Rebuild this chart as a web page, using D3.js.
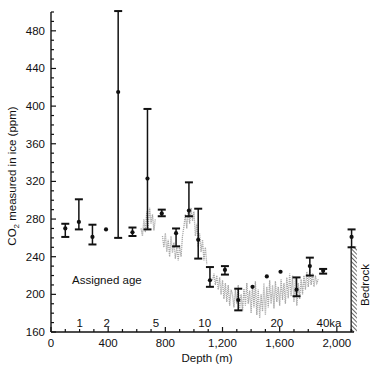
<!DOCTYPE html>
<html>
<head>
<meta charset="utf-8">
<script src="https://cdn.jsdelivr.net/npm/d3@7"></script>
<style>
  body { margin: 0; background: #fff; }
  svg text { font-family: "Liberation Sans", Arial, Helvetica, sans-serif; fill: #111; }
</style>
</head>
<body>
<svg id="chart" width="380" height="377"></svg>
<script>
'use strict';

// measured samples (ppm), with error range where drawn
const barDepth = [100, 195, 290, 385, 470, 570, 675, 775, 875, 965, 1030, 1112, 1217, 1310, 1410, 1510, 1606, 1718, 1811, 1904, 2103];
const barValue = [270, 277, 261, 269, 415, 266, 323, 286, 265, 289, 258, 215, 226, 194, 208, 219, 224, 205, 230, 225, 261];
const barLow   = [261, 269, 253, null, 260, 262, 269, 283, 251, 283, 238, 208, 221, 183, null, null, null, 198, 220, 222, 250];
const barHigh  = [275, 301, 274, null, 501, 271, 397, 290, 270, 319, 291, 229, 230, 206, null, null, null, 218, 239, 227, 269];

// dense record (grey), null = gap
const cloudDepth = [630, 640, 650, 660, 670, 680, 690, 700, 710, 720, 730, 755,
  780, 790, 800, 810, 820, 830, 840, 850, 860, 870, 880, 890, 900, 910, 920,
  930, 940, 950, 960, 970, 980, 990, 1000,
  1010, 1020, 1030, 1040, 1050, 1060, 1070, 1080, 1090, 1110,
  1130, 1140, 1150, 1160, 1170, 1180, 1190, 1200, 1210, 1220, 1230, 1240, 1250, 1260,
  1270, 1280, 1290, 1300, 1310, 1320, 1330, 1340, 1350, 1360, 1370, 1380, 1390, 1400,
  1410, 1420, 1430, 1440, 1450, 1460, 1470, 1480, 1490, 1500, 1510, 1520, 1530, 1540,
  1550, 1560, 1570, 1580, 1590, 1600, 1610, 1620, 1630, 1640, 1650, 1660, 1670, 1680,
  1690, 1700, 1710, 1720, 1730, 1740, 1750, 1760, 1770, 1780, 1790, 1800, 1810, 1820,
  1830, 1840, 1850, 1860, 1870];
const cloudCO2 = [270, 262, 280, 266, 288, 270, 292, 275, 285, 268, 280, null,
  262, 250, 265, 245, 258, 240, 262, 244, 255, 238, 250, 236, 252, 240, 262,
  272, 285, 270, 290, 275, 292, 278, 288,
  262, 275, 250, 265, 245, 258, 236, 250, 232, null,
  215, 222, 210, 220, 205, 218, 200, 215, 195, 212, 192, 210, 188, 205,
  200, 186, 205, 190, 210, 185, 200, 182, 206, 188, 212, 190, 204, 180,
  210, 186, 214, 178, 205, 175, 200, 182, 212, 178, 208, 186, 215, 190,
  210, 185, 214, 192, 208, 188, 216, 194, 212, 190, 218, 196, 222, 198,
  220, 192, 218, 188, 212, 195, 216, 200, 220, 205, 224, 208, 226, 210,
  222, 208, 220, 212, 216];

const ageDepth = [200, 390, 735, 1075, 1580, 1945];
const ageLabel = ['1', '2', '5', '10', '20', '40ka'];

const yTickValues = [160, 200, 240, 280, 320, 360, 400, 440, 480];
const xTickValues = [0, 400, 800, 1200, 1600, 2000];
const bedrock = { from: 2100, to: 2140, top: 251 };

const svg = d3.select('#chart');

const x = d3.scaleLinear().domain([0, 2120]).range([51, 354]);
const y = d3.scaleLinear().domain([160, 500]).range([332, 12]);

//Axes: ticks point inward, minor ticks unlabelled
const xAxis = svg.append('g').attr('transform', 'translate(0,' + y(160) + ')');
xAxis.append('line').attr('x1', x(0)).attr('x2', x(2120)).attr('stroke', '#111').attr('stroke-width', 1.4);
xAxis.selectAll('.xt').data(d3.range(0, 2101, 100)).join('line')
  .attr('x1', d => x(d)).attr('x2', d => x(d))
  .attr('y1', 0).attr('y2', d => (d % 400 === 0 ? -5 : -3))
  .attr('stroke', '#111').attr('stroke-width', 1.2);
xAxis.selectAll('.xl').data(xTickValues).join('text')
  .attr('x', d => x(d)).attr('y', 15)
  .attr('text-anchor', 'middle').attr('font-size', 11.5)
  .text(d => d3.format(',')(d));

const yAxis = svg.append('g').attr('transform', 'translate(' + x(0) + ',0)');
yAxis.append('line').attr('y1', y(160)).attr('y2', y(500)).attr('stroke', '#111').attr('stroke-width', 1.4);
yAxis.selectAll('.yt').data(d3.range(160, 501, 10)).join('line')
  .attr('y1', d => y(d)).attr('y2', d => y(d))
  .attr('x1', 0).attr('x2', d => (d % 40 === 0 ? 5 : 3))
  .attr('stroke', '#111').attr('stroke-width', 1.2);
yAxis.selectAll('.yl').data(yTickValues).join('text')
  .attr('x', -6).attr('y', d => y(d)).attr('dy', '0.35em')
  .attr('text-anchor', 'end').attr('font-size', 11.5)
  .text(d => d);

//Axis titles
svg.append('text')
  .attr('x', 207).attr('y', 362)
  .attr('text-anchor', 'middle').attr('font-size', 11.5)
  .text('Depth (m)');

const yTitle = svg.append('text')
  .attr('transform', 'translate(16,176) rotate(-90)')
  .attr('text-anchor', 'middle').attr('font-size', 11.5);
yTitle.append('tspan').text('CO');
yTitle.append('tspan').attr('font-size', 8).attr('dy', 3).text('2');
yTitle.append('tspan').attr('dy', -3).text(' measured in ice (ppm)');

//Grey dense record
const cloud = cloudDepth.map((d, i) => ({ d: d, v: cloudCO2[i] }));
svg.append('path')
  .datum(cloud)
  .attr('fill', 'none')
  .attr('stroke', '#a8a8a8')
  .attr('stroke-width', 1.3)
  .attr('stroke-dasharray', '1.2,0.8')
  .attr('d', d3.line().defined(p => p.v !== null).x(p => x(p.d)).y(p => y(p.v)));

//Error bars
const bars = barDepth.map((d, i) => ({ d: d, v: barValue[i], lo: barLow[i], hi: barHigh[i] }));
const withRange = bars.filter(b => b.lo !== null);
const g = svg.append('g');
g.selectAll('.stem').data(withRange).join('line')
  .attr('x1', b => x(b.d)).attr('x2', b => x(b.d))
  .attr('y1', b => y(b.lo)).attr('y2', b => y(b.hi))
  .attr('stroke', '#111').attr('stroke-width', 1.5);
g.selectAll('.capTop').data(withRange).join('line')
  .attr('x1', b => x(b.d) - 4).attr('x2', b => x(b.d) + 4)
  .attr('y1', b => y(b.hi)).attr('y2', b => y(b.hi))
  .attr('stroke', '#111').attr('stroke-width', 2);
g.selectAll('.capBot').data(withRange).join('line')
  .attr('x1', b => x(b.d) - 4).attr('x2', b => x(b.d) + 4)
  .attr('y1', b => y(b.lo)).attr('y2', b => y(b.lo))
  .attr('stroke', '#111').attr('stroke-width', 2);
g.selectAll('circle').data(bars).join('circle')
  .attr('cx', b => x(b.d)).attr('cy', b => y(b.v)).attr('r', 2.1)
  .attr('fill', '#111');

//Assigned ages
svg.append('text')
  .attr('x', 72).attr('y', 284).attr('font-size', 11.5)
  .text('Assigned age');
svg.selectAll('.age').data(ageDepth).join('text')
  .attr('x', d => x(d)).attr('y', 327)
  .attr('text-anchor', 'middle').attr('font-size', 11.5)
  .text((d, i) => ageLabel[i]);

//Bedrock
const defs = svg.append('defs');
defs.append('pattern')
  .attr('id', 'hatch').attr('patternUnits', 'userSpaceOnUse')
  .attr('width', 3).attr('height', 3)
  .attr('patternTransform', 'rotate(-45)')
  .append('line').attr('x1', 0).attr('y1', 0).attr('x2', 0).attr('y2', 3)
  .attr('stroke', '#111').attr('stroke-width', 1.3);
svg.append('rect')
  .attr('x', x(bedrock.from)).attr('y', y(bedrock.top))
  .attr('width', x(bedrock.to) - x(bedrock.from))
  .attr('height', y(160) - y(bedrock.top))
  .attr('fill', 'url(#hatch)');
svg.append('line')
  .attr('x1', x(bedrock.from)).attr('x2', x(bedrock.from))
  .attr('y1', y(bedrock.top)).attr('y2', y(160))
  .attr('stroke', '#111').attr('stroke-width', 1.2);
svg.append('text')
  .attr('transform', 'translate(369,285) rotate(-90)')
  .attr('text-anchor', 'middle').attr('font-size', 11.5)
  .text('Bedrock');
</script>
</body>
</html>
